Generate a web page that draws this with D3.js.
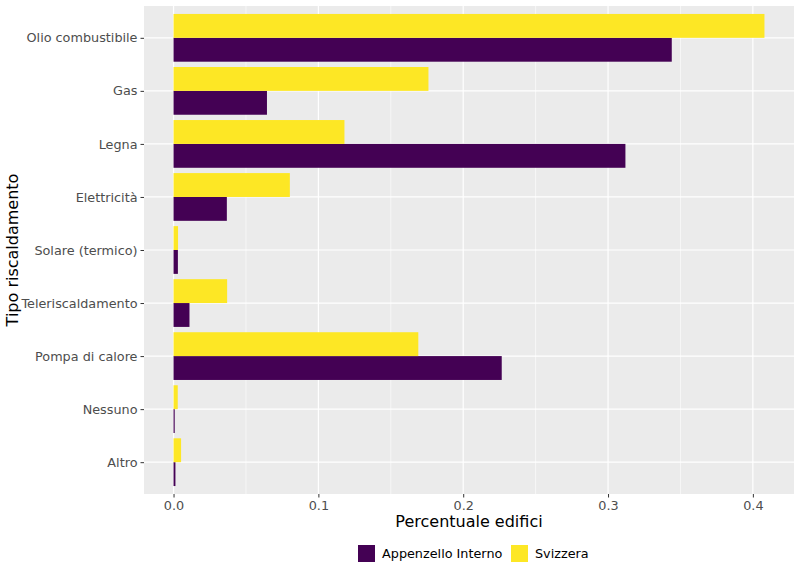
<!DOCTYPE html>
<html>
<head>
<meta charset="utf-8">
<script src="https://cdn.jsdelivr.net/npm/d3@7"></script>
<style>
body { margin: 0; background: #fff; }
text { font-family: "DejaVu Sans", sans-serif; }
</style>
</head>
<body>
<div id="graphic"></div>
<script>
var categories = ["Olio combustibile","Gas","Legna","Elettricità","Solare (termico)","Teleriscaldamento","Pompa di calore","Nessuno","Altro"]
var seriesNames = ["Appenzello Interno","Svizzera"]
var appenzello = [0.344, 0.0645, 0.312, 0.0368, 0.003, 0.011, 0.2266, 0.0008, 0.0013]
var svizzera = [0.408, 0.176, 0.118, 0.0803, 0.0031, 0.037, 0.169, 0.0029, 0.0052]
var xTicks = [0, 0.1, 0.2, 0.3, 0.4]
var colors = ["#440154", "#FDE725"]

var width = 800, height = 574
var margins = {top: 6, right: 6, bottom: 80, left: 144}
var panelW = width - margins.left - margins.right
var panelH = height - margins.top - margins.bottom

var svg = d3.select("#graphic").append("svg")
	.attr("width", width)
	.attr("height", height)

var maxV = d3.max(svizzera.concat(appenzello))
var pad = maxV * 0.05
var x = d3.scaleLinear().domain([-pad, maxV + pad]).range([0, panelW])
var y = d3.scalePoint().domain(categories).range([0, panelH]).padding(0.6)
var barBand = y.step() * 0.9
var ySub = d3.scaleBand().domain(["Svizzera","Appenzello Interno"]).range([-barBand/2, barBand/2])

var g = svg.append("g").attr("transform", "translate(" + margins.left + "," + margins.top + ")")

g.append("rect")
	.attr("width", panelW)
	.attr("height", panelH)
	.attr("fill", "#EBEBEB")

// minor grid
var minor = [0.05, 0.15, 0.25, 0.35]
g.selectAll(".minor").data(minor).enter().append("line")
	.attr("x1", function(d){ return x(d) }).attr("x2", function(d){ return x(d) })
	.attr("y1", 0).attr("y2", panelH)
	.attr("stroke", "#fff").attr("stroke-width", 0.6)

g.selectAll(".major").data(xTicks).enter().append("line")
	.attr("x1", function(d){ return x(d) }).attr("x2", function(d){ return x(d) })
	.attr("y1", 0).attr("y2", panelH)
	.attr("stroke", "#fff").attr("stroke-width", 1.2)

g.selectAll(".hgrid").data(categories).enter().append("line")
	.attr("x1", 0).attr("x2", panelW)
	.attr("y1", function(d){ return y(d) })
	.attr("y2", function(d){ return y(d) })
	.attr("stroke", "#fff").attr("stroke-width", 1.2)

var rows = categories.map(function(c, i){
	return {cat: c, values: [{s: "Appenzello Interno", v: appenzello[i]}, {s: "Svizzera", v: svizzera[i]}]}
})

var grp = g.selectAll(".cat").data(rows).enter().append("g")
	.attr("transform", function(d){ return "translate(0," + y(d.cat) + ")" })

grp.selectAll("rect").data(function(d){ return d.values }).enter().append("rect")
	.attr("x", x(0))
	.attr("y", function(d){ return ySub(d.s) })
	.attr("height", ySub.bandwidth())
	.attr("width", function(d){ return x(d.v) - x(0) })
	.attr("fill", function(d){ return colors[seriesNames.indexOf(d.s)] })

// x axis
var xAxis = g.append("g")
	.attr("transform", "translate(0," + panelH + ")")
	.call(d3.axisBottom(x).tickValues(xTicks).tickFormat(d3.format(".1f")).tickSize(3.5).tickPadding(3))
xAxis.select(".domain").remove()
xAxis.selectAll("line").attr("stroke", "#333")
xAxis.selectAll("text").attr("fill", "#4D4D4D").style("font-size", "12.8px")

var yAxis = g.append("g")
	.call(d3.axisLeft(y).tickSize(3.5).tickPadding(3))
yAxis.select(".domain").remove()
yAxis.selectAll("line").attr("stroke", "#333")
yAxis.selectAll("text").attr("fill", "#4D4D4D").style("font-size", "12.8px")

svg.append("text")
	.attr("x", margins.left + panelW/2)
	.attr("y", 527)
	.attr("text-anchor", "middle")
	.style("font-size", "16px")
	.attr("fill", "#000")
	.text("Percentuale edifici")

svg.append("text")
	.attr("transform", "translate(18," + (margins.top + panelH/2) + ") rotate(-90)")
	.attr("text-anchor", "middle")
	.style("font-size", "16px")
	.attr("fill", "#000")
	.text("Tipo riscaldamento")

// legend
var legend = svg.append("g").attr("transform", "translate(358,545)")
var lx = [0, 153]
seriesNames.forEach(function(s, i){
	legend.append("rect")
		.attr("x", lx[i]).attr("y", 0)
		.attr("width", 17).attr("height", 17)
		.attr("fill", colors[i])
	legend.append("text")
		.attr("x", lx[i] + 24).attr("y", 13)
		.style("font-size", "12.8px")
		.text(s)
})
</script>
</body>
</html>
